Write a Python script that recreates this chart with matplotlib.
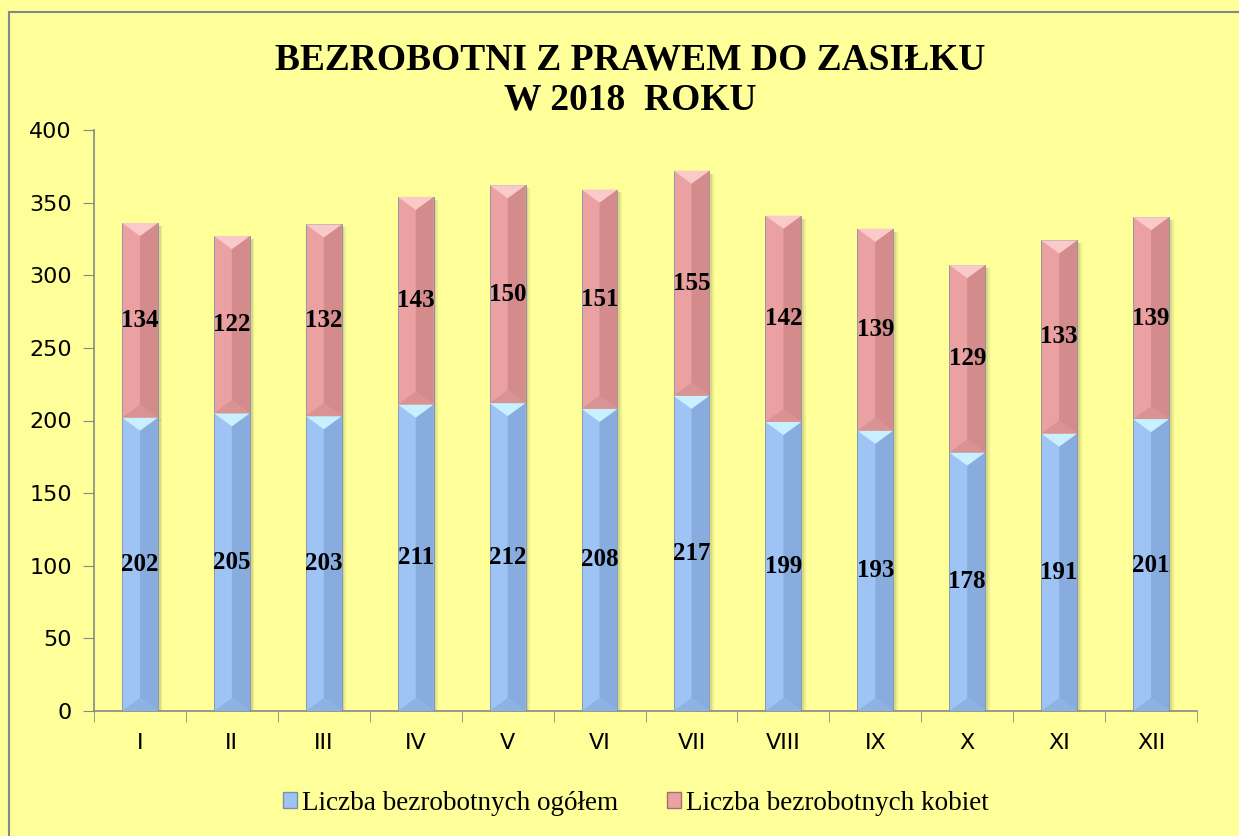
import matplotlib.pyplot as plt
from matplotlib.patches import Polygon, Rectangle
import numpy as np

months = ['I', 'II', 'III', 'IV', 'V', 'VI', 'VII', 'VIII', 'IX', 'X', 'XI', 'XII']
ogolem = [202, 205, 203, 211, 212, 208, 217, 199, 193, 178, 191, 201]
kobiet = [134, 122, 132, 143, 150, 151, 155, 142, 139, 129, 133, 139]

bg = '#FFFF99'
blue = dict(left='#9EC4F6', right='#88ACDD', top='#C9F0FF', bottom='#8EB2E2')
pink = dict(left='#EBA1A1', right='#D38B8B', top='#FAC9C9', bottom='#D99393')

fig = plt.figure(figsize=(12.39, 8.36), dpi=100, facecolor=bg)
fig.patches.append(Rectangle((9 / 1239, -0.01), 1.02, 1 - 12 / 836 + 0.01,
                             transform=fig.transFigure, fill=False,
                             edgecolor='#888888', linewidth=1.5))
ax = fig.add_axes([94 / 1239, 125 / 836, (1197 - 94) / 1239, (711 - 130) / 836])
ax.set_facecolor(bg)

x = np.arange(len(months))
w = 0.39
hw = w / 2
depth = 9


def bevel_bar(xc, y0, h, c):
    # shadow
    for k, a in [(0.05, 0.12), (0.03, 0.18)]:
        ax.add_patch(Rectangle((xc - hw + k, y0 - 2), w, h, facecolor='#777755',
                               alpha=a, edgecolor='none', zorder=1))
    ax.add_patch(Rectangle((xc - hw, y0), w, h, facecolor=c['left'],
                           edgecolor='#7F8FA6', linewidth=0.6, zorder=2))
    ax.add_patch(Polygon([(xc, y0 + depth), (xc + hw, y0), (xc + hw, y0 + h), (xc, y0 + h - depth)],
                         facecolor=c['right'], edgecolor='none', zorder=3))
    ax.add_patch(Polygon([(xc - hw, y0 + h), (xc + hw, y0 + h), (xc, y0 + h - depth)],
                         facecolor=c['top'], edgecolor='none', zorder=3))
    ax.add_patch(Polygon([(xc - hw, y0), (xc + hw, y0), (xc, y0 + depth)],
                         facecolor=c['bottom'], edgecolor='none', zorder=3))


for i in x:
    bevel_bar(i, 0, ogolem[i], blue)
    bevel_bar(i, ogolem[i], kobiet[i], pink)
    ax.text(i, ogolem[i] / 2, str(ogolem[i]), ha='center', va='center',
            fontsize=18, fontweight='bold', family='Liberation Serif', zorder=5)
    ax.text(i, ogolem[i] + kobiet[i] / 2, str(kobiet[i]), ha='center', va='center',
            fontsize=18, fontweight='bold', family='Liberation Serif', zorder=5)

ax.set_xlim(-0.5, len(months) - 0.5)
ax.set_ylim(0, 400)
ax.set_yticks(range(0, 401, 50))
ax.set_xticks(x)
ax.set_xticklabels(months)
ax.set_xticks(np.arange(-0.5, len(months)), minor=True)
ax.tick_params(axis='x', which='major', length=0, pad=16, labelsize=16)
ax.tick_params(axis='x', which='minor', length=8, color='#888888', direction='out')
ax.tick_params(axis='y', length=8, color='#888888', labelsize=16, pad=8)
for s in ['top', 'right']:
    ax.spines[s].set_visible(False)
for s in ['left', 'bottom']:
    ax.spines[s].set_color('#888888')
    ax.spines[s].set_linewidth(1.2)

fig.text(630 / 1239, 1 - 80 / 836, 'BEZROBOTNI Z PRAWEM DO ZASIŁKU\nW 2018  ROKU',
         ha='center', va='center', fontsize=27, fontweight='bold',
         family='Liberation Serif', linespacing=1.2)

h1 = Rectangle((0, 0), 1, 1, facecolor=blue['left'], edgecolor='#7F8FA6')
h2 = Rectangle((0, 0), 1, 1, facecolor=pink['left'], edgecolor='#A07070')
fig.legend([h1, h2], ['Liczba bezrobotnych ogółem', 'Liczba bezrobotnych kobiet'],
           loc='center', bbox_to_anchor=(636 / 1239, 1 - 803 / 836), ncol=2,
           frameon=False, prop={'family': 'Liberation Serif', 'size': 19.5},
           handlelength=0.5, handleheight=0.5, handletextpad=0.2, columnspacing=1.8)

fig.savefig('out.png', dpi=100, facecolor=bg)
